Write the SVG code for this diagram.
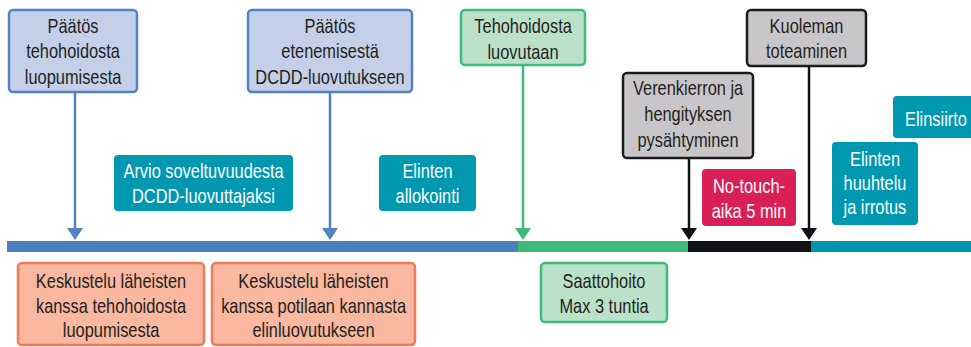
<svg xmlns="http://www.w3.org/2000/svg" width="971" height="347" viewBox="0 0 971 347">
<style>
text{font-family:"Liberation Sans",Arial,sans-serif;font-size:20px;text-anchor:middle;fill:#231f20;transform-box:fill-box;transform-origin:center;transform:scaleX(0.82)}
.w{fill:#ffffff}
.blue{fill:#c4cfe8;stroke:#5282c2;stroke-width:2.5}
.green{fill:#bbe2c8;stroke:#3fba78;stroke-width:2.5}
.gray{fill:#c8c6c9;stroke:#1a1a1f;stroke-width:2.5}
.salmon{fill:#f9b89f;stroke:#f0795a;stroke-width:2.5}
.teal{fill:#0097b0}
.red{fill:#da1f56}
.lb{stroke:#5282c2;stroke-width:2.5;fill:none}
.lg{stroke:#3fba78;stroke-width:2.5;fill:none}
.lk{stroke:#111118;stroke-width:2.5;fill:none}
</style>
<g id="timeline">
<rect x="7" y="241" width="511" height="11" fill="#4d7fbf"/>
<rect x="518" y="241" width="170" height="11" fill="#3dba78"/>
<rect x="688" y="241" width="123" height="11" fill="#111118"/>
<rect x="811" y="241" width="160" height="11" fill="#0096b0"/>
</g>
<g id="connectors">
<line class="lb" x1="75" y1="92" x2="75" y2="229"/>
<polygon points="67,228 83,228 75,240" fill="#5282c2"/>
<line class="lb" x1="330" y1="92" x2="330" y2="229"/>
<polygon points="322,228 338,228 330,240" fill="#5282c2"/>
<line class="lg" x1="523" y1="65" x2="523" y2="229"/>
<polygon points="515,228 531,228 523,240" fill="#3fba78"/>
<line class="lk" x1="689" y1="158" x2="689" y2="229"/>
<polygon points="681,228 697,228 689,240" fill="#111118"/>
<line class="lk" x1="809" y1="66" x2="809" y2="229"/>
<polygon points="801,228 817,228 809,240" fill="#111118"/>
</g>
<g id="n1"><rect class="blue" x="9" y="10" width="128" height="82" rx="4"/>
<text x="73" y="33">Päätös</text><text x="73" y="58.5">tehohoidosta</text><text x="73" y="84">luopumisesta</text></g>
<g id="n2"><rect class="blue" x="248" y="10" width="164" height="82" rx="4"/>
<text x="330" y="33">Päätös</text><text x="330" y="58.5">etenemisestä</text><text x="330" y="84">DCDD-luovutukseen</text></g>
<g id="n3"><rect class="green" x="461" y="10" width="124" height="55" rx="4"/>
<text x="523" y="33">Tehohoidosta</text><text x="523" y="59">luovutaan</text></g>
<g id="n4"><rect class="gray" x="747" y="10" width="119" height="56" rx="4"/>
<text x="806.5" y="33">Kuoleman</text><text x="806.5" y="58.5">toteaminen</text></g>
<g id="n5"><rect class="gray" x="623" y="73" width="130" height="85" rx="4"/>
<text x="688" y="95">Verenkierron ja</text><text x="688" y="121">hengityksen</text><text x="688" y="147">pysähtyminen</text></g>
<g id="n6"><rect class="red" x="702" y="169" width="94" height="57" rx="4"/>
<text class="w" x="749" y="193">No-touch-</text><text class="w" x="749" y="218">aika 5 min</text></g>
<g id="n7"><rect class="teal" x="893" y="96" width="82" height="42" rx="4"/>
<text class="w" x="936" y="126">Elinsiirto</text></g>
<g id="n8"><rect class="teal" x="832" y="142" width="86" height="83" rx="4"/>
<text class="w" x="875" y="166">Elinten</text><text class="w" x="875" y="190">huuhtelu</text><text class="w" x="875" y="214">ja irrotus</text></g>
<g id="n9"><rect class="teal" x="114" y="155" width="179" height="56" rx="4"/>
<text class="w" x="203.5" y="178">Arvio soveltuvuudesta</text><text class="w" x="203.5" y="203">DCDD-luovuttajaksi</text></g>
<g id="n10"><rect class="teal" x="379" y="155" width="97" height="56" rx="4"/>
<text class="w" x="427.5" y="178">Elinten</text><text class="w" x="427.5" y="203">allokointi</text></g>
<g id="n11"><rect class="salmon" x="18" y="263" width="186" height="82" rx="4"/>
<text x="111" y="288">Keskustelu läheisten</text><text x="111" y="313">kanssa tehohoidosta</text><text x="111" y="337.5">luopumisesta</text></g>
<g id="n12"><rect class="salmon" x="212" y="263" width="203" height="82" rx="4"/>
<text x="313.5" y="288">Keskustelu läheisten</text><text x="313.5" y="313">kanssa potilaan kannasta</text><text x="313.5" y="337.5">elinluovutukseen</text></g>
<g id="n13"><rect class="green" x="541" y="263" width="126" height="59" rx="4"/>
<text x="604" y="288">Saattohoito</text><text x="604" y="313">Max 3 tuntia</text></g>
</svg>
